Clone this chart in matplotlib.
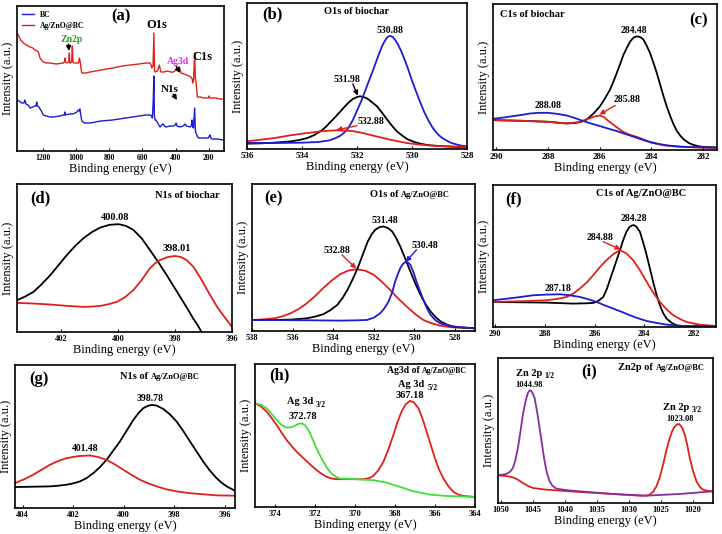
import numpy as np
import matplotlib
matplotlib.use('Agg')
import matplotlib.pyplot as plt

plt.rcParams['font.family'] = 'Liberation Serif'
plt.rcParams['font.weight'] = 'bold'

# ---- data: (binding energy eV, intensity a.u.) ----
# (a) survey spectra
a_ag = np.array([
    [1357, 117], [1349, 116], [1335, 111], [1319, 108], [1300, 106], [1278, 104],
    [1262, 103], [1248, 101], [1236, 100], [1228, 99], [1218, 93], [1205, 90],
    [1198, 89], [1180, 88], [1158, 88], [1120, 87], [1077, 88], [1069, 90],
    [1067, 93], [1064, 89], [1058, 88], [1045, 89], [1041, 98], [1038, 88],
    [1034, 88], [1027, 89], [1023, 105], [1019, 89], [1013, 88], [995, 88],
    [987, 88], [980, 93], [975, 88], [970, 82], [966, 78], [940, 78], [916, 79],
    [850, 81], [780, 83], [720, 85], [675, 86], [620, 87], [580, 88], [554, 88],
    [548, 86], [544, 83], [536, 85], [531, 118], [527, 80], [524, 79], [510, 80],
    [498, 86], [492, 81], [488, 79], [470, 79], [450, 80], [430, 79], [413, 79],
    [397, 81], [385, 80], [377, 84], [371, 80], [367, 78], [350, 77], [333, 76],
    [320, 75], [309, 74], [300, 72], [297, 68], [292, 70], [285, 98], [281, 72],
    [278, 71], [273, 62], [269, 54], [250, 54], [230, 53], [212, 53], [203, 53],
    [198, 55], [193, 53], [186, 53], [160, 53], [130, 52], [108, 52]])
a_bc = np.array([
    [1357, 51], [1345, 50], [1329, 48], [1315, 48], [1309, 51], [1303, 47],
    [1290, 46], [1278, 43], [1262, 44], [1250, 45], [1242, 45], [1238, 49],
    [1234, 45], [1225, 44], [1210, 40], [1198, 36], [1180, 35], [1160, 34],
    [1138, 34], [1100, 35], [1077, 36], [1071, 36], [1069, 39], [1066, 36],
    [1040, 37], [1020, 37], [1007, 38], [995, 39], [987, 41], [982, 40],
    [978, 42], [972, 36], [966, 30], [950, 28], [916, 28], [850, 30], [780, 31],
    [700, 33], [620, 35], [580, 36], [554, 36], [545, 35], [540, 33], [535, 50],
    [531, 75], [528, 35], [524, 31], [518, 31], [505, 27], [494, 24], [484, 26],
    [476, 27], [468, 25], [458, 24], [435, 25], [413, 25], [402, 26], [397, 28],
    [392, 25], [373, 24], [355, 25], [343, 27], [335, 25], [313, 24], [305, 25],
    [301, 31], [297, 24], [292, 23], [285, 43], [281, 22], [279, 19], [270, 15],
    [263, 13], [240, 13], [220, 13], [203, 13], [196, 15], [192, 16], [188, 13],
    [180, 12], [150, 12], [112, 11]])

# (b) O1s of biochar
b_531 = np.array([
    [536.0, 16], [535.5, 17], [535.0, 19], [534.4, 23], [534.1, 27], [533.8, 33],
    [533.55, 42], [533.3, 55], [533.15, 65], [533.0, 78], [532.8, 95], [532.6, 113],
    [532.45, 127], [532.3, 140], [532.15, 150], [532.0, 156], [531.9, 158], [531.8, 157],
    [531.7, 154], [531.6, 150], [531.45, 140], [531.27, 128], [531.1, 110], [530.9, 88],
    [530.75, 72], [530.55, 53], [530.35, 40], [530.18, 30], [529.95, 22], [529.7, 16],
    [529.45, 12], [529.2, 10], [528.6, 7], [528.0, 5]])
b_530 = np.array([
    [536.0, 18], [535.0, 18], [534.0, 19], [533.4, 21], [533.0, 26], [532.8, 32],
    [532.6, 40], [532.45, 50], [532.3, 65], [532.15, 87], [532.0, 115], [531.85, 143],
    [531.7, 175], [531.55, 208], [531.4, 240], [531.3, 263], [531.2, 285], [531.1, 306],
    [531.0, 323], [530.92, 333], [530.85, 338], [530.78, 339], [530.7, 336], [530.6, 326],
    [530.5, 312], [530.4, 295], [530.3, 275], [530.15, 242], [530.0, 205], [529.85, 172],
    [529.7, 140], [529.55, 110], [529.4, 85], [529.25, 64], [529.1, 48], [528.95, 36],
    [528.8, 28], [528.6, 19], [528.4, 14], [528.2, 10], [528.0, 8]])
b_532 = np.array([
    [536.0, 23], [535.5, 28], [535.0, 33], [534.5, 40], [534.0, 46], [533.6, 50],
    [533.3, 53], [533.0, 55], [532.75, 56], [532.4, 55], [532.1, 53], [531.8, 48],
    [531.4, 40], [531.1, 34], [530.8, 28], [530.5, 23], [530.2, 18], [529.8, 14],
    [529.45, 11], [529.0, 9], [528.7, 8], [528.0, 6]])

# (c) C1s of biochar
c_284 = np.array([
    [290.13, 90], [289.0, 88], [288.0, 85], [287.3, 80], [287.0, 81], [286.76, 84],
    [286.55, 90], [286.38, 100], [286.2, 113], [285.99, 132], [285.8, 155], [285.6, 182],
    [285.47, 206], [285.34, 232], [285.2, 261], [285.08, 287], [284.95, 308], [284.82, 327],
    [284.7, 338], [284.6, 342], [284.5, 342], [284.4, 339], [284.3, 332], [284.18, 314],
    [284.05, 292], [283.92, 263], [283.79, 232], [283.66, 197], [283.53, 162], [283.4, 130],
    [283.27, 102], [283.14, 77], [283.01, 57], [282.88, 43], [282.75, 32], [282.55, 21],
    [282.36, 15], [282.15, 11], [281.97, 9], [281.46, 8]])
c_285 = np.array([
    [290.13, 90], [289.0, 88], [288.0, 85], [287.3, 80], [286.8, 84], [286.4, 95],
    [286.2, 101], [286.0, 104], [285.85, 100], [285.7, 90], [285.4, 72], [285.1, 55],
    [284.8, 45], [284.5, 38], [284.0, 22], [283.5, 14], [283.0, 10], [282.0, 7],
    [281.46, 6]])
c_288 = np.array([
    [290.13, 94], [289.7, 98], [289.35, 102], [289.0, 106], [288.7, 110], [288.35, 112],
    [288.0, 112], [287.65, 109], [287.28, 104], [286.95, 96], [286.63, 87], [286.3, 79],
    [285.99, 72], [285.65, 64], [285.34, 57], [285.0, 48], [284.69, 40], [284.35, 31],
    [284.05, 24], [283.7, 18], [283.4, 14], [283.0, 11], [282.62, 9], [282.0, 8],
    [281.46, 7]])

# (d) N1s of biochar
d_400 = np.array([
    [403.54, 95], [403.25, 106], [402.96, 120], [402.67, 143], [402.37, 170],
    [402.08, 200], [401.79, 230], [401.5, 257], [401.21, 280], [400.92, 298],
    [400.62, 312], [400.3, 320], [399.98, 322], [399.72, 317], [399.46, 305],
    [399.17, 280], [398.88, 245], [398.58, 208], [398.29, 170], [398.0, 130],
    [397.71, 90], [397.53, 65], [397.36, 40], [397.2, 20], [397.07, 0], [396.8, -35]])
d_398 = np.array([
    [403.54, 87], [402.95, 85], [402.37, 82], [401.79, 78], [401.21, 75], [400.9, 76],
    [400.62, 78], [400.33, 83], [400.04, 90], [399.75, 104], [399.46, 125], [399.17, 155],
    [398.88, 190], [398.7, 205], [398.52, 215], [398.25, 224], [398.0, 227], [397.8, 224],
    [397.59, 215], [397.36, 195], [397.13, 165], [396.9, 130], [396.66, 95], [396.5, 72],
    [396.31, 50], [396.15, 32], [396.0, 15]])

# (e) O1s of Ag/ZnO@BC
e_531 = np.array([
    [538.0, 33], [537.0, 33], [536.1, 34], [535.7, 36], [535.3, 38], [534.9, 43],
    [534.5, 50], [534.15, 62], [533.8, 78], [533.55, 98], [533.3, 123], [533.05, 154],
    [532.8, 188], [532.55, 228], [532.3, 268], [532.1, 290], [531.93, 303], [531.72, 311],
    [531.52, 313], [531.3, 308], [531.1, 298], [530.9, 278], [530.7, 253], [530.45, 216],
    [530.2, 178], [529.95, 141], [529.7, 108], [529.45, 80], [529.2, 58], [528.95, 41],
    [528.7, 28], [528.4, 19], [528.1, 13], [527.5, 10], [527.02, 8]])
e_532 = np.array([
    [538.0, 33], [537.4, 35], [536.9, 38], [536.5, 44], [536.1, 53], [535.7, 66],
    [535.3, 83], [534.9, 104], [534.5, 128], [534.1, 150], [533.66, 170], [533.25, 181],
    [532.84, 185], [532.4, 180], [532.0, 168], [531.6, 147], [531.2, 123], [530.8, 97],
    [530.38, 73], [529.95, 50], [529.56, 33], [529.15, 23], [528.74, 16], [528.3, 12],
    [527.9, 10], [527.02, 8]])
e_530 = np.array([
    [538.0, 33], [535.0, 32], [533.7, 31], [532.8, 32], [532.34, 33], [532.0, 40],
    [531.69, 53], [531.48, 68], [531.28, 88], [531.1, 115], [530.95, 148], [530.82, 170],
    [530.7, 188], [530.58, 200], [530.46, 206], [530.33, 205], [530.2, 198], [530.05, 176],
    [529.9, 148], [529.73, 120], [529.56, 93], [529.4, 70], [529.23, 50], [529.0, 34],
    [528.74, 23], [528.3, 16], [527.9, 12], [527.02, 8]])

# (f) C1s of Ag/ZnO@BC
f_284 = np.array([
    [290.07, 75], [287.93, 73], [286.86, 70], [286.3, 71], [286.05, 72], [285.85, 78],
    [285.65, 90], [285.5, 115], [285.32, 155], [285.15, 192], [284.98, 230], [284.85, 260],
    [284.72, 285], [284.6, 299], [284.5, 304], [284.42, 305], [284.32, 300], [284.18, 285],
    [284.05, 253], [283.91, 215], [283.78, 175], [283.65, 135], [283.52, 98], [283.38, 65],
    [283.25, 42], [283.11, 25], [282.9, 12], [282.71, 5], [282.31, 2], [281.13, 2]])
f_285 = np.array([
    [290.07, 75], [289.0, 77], [287.93, 80], [287.5, 84], [287.12, 90], [286.85, 100],
    [286.59, 115], [286.3, 134], [286.05, 155], [285.8, 178], [285.52, 200], [285.25, 218],
    [284.98, 230], [284.72, 220], [284.45, 200], [284.18, 170], [283.91, 135], [283.65, 103],
    [283.38, 75], [283.1, 52], [282.84, 35], [282.55, 23], [282.31, 15], [281.78, 7],
    [281.13, 3]])
f_287 = np.array([
    [290.07, 80], [289.6, 84], [289.26, 87], [288.85, 91], [288.46, 95], [287.9, 97],
    [287.39, 98], [287.0, 95], [286.59, 90], [286.25, 83], [285.92, 75], [285.6, 65],
    [285.25, 55], [284.9, 45], [284.58, 35], [284.25, 26], [283.91, 18], [283.5, 12],
    [283.11, 7], [282.7, 4], [282.31, 3], [281.13, 2]])

# (g) N1s of Ag/ZnO@BC
g_398 = np.array([
    [404.3, 63], [403.6, 64], [402.92, 65], [402.6, 67], [402.26, 70], [402.0, 74],
    [401.73, 80], [401.47, 90], [401.2, 105], [400.94, 123], [400.68, 145], [400.42, 172],
    [400.15, 200], [399.88, 233], [399.62, 265], [399.42, 285], [399.23, 300], [399.05, 307],
    [398.9, 310], [398.7, 308], [398.44, 298], [398.18, 282], [397.91, 260], [397.65, 232],
    [397.38, 200], [397.12, 170], [396.86, 140], [396.6, 113], [396.33, 90], [396.13, 76],
    [395.93, 65], [395.6, 52]])
g_401 = np.array([
    [404.3, 75], [403.95, 86], [403.58, 100], [403.25, 115], [402.92, 130], [402.6, 141],
    [402.26, 150], [401.8, 156], [401.34, 158], [401.0, 153], [400.68, 145], [400.35, 131],
    [400.02, 115], [399.7, 100], [399.36, 85], [399.03, 74], [398.7, 65], [398.3, 56],
    [397.91, 50], [397.45, 45], [396.99, 42], [396.33, 38], [395.6, 37]])

# (h) Ag3d of Ag/ZnO@BC
h_367 = np.array([
    [375.0, 310], [374.7, 300], [374.42, 285], [374.17, 266], [373.92, 245], [373.67, 222],
    [373.42, 200], [373.17, 182], [372.92, 165], [372.67, 151], [372.42, 137], [372.17, 123],
    [371.92, 110], [371.67, 99], [371.42, 90], [371.17, 85], [370.92, 83], [370.25, 83],
    [369.58, 83], [369.3, 86], [369.08, 93], [368.83, 110], [368.58, 135], [368.33, 172],
    [368.08, 215], [367.88, 253], [367.67, 285], [367.46, 307], [367.25, 317], [367.05, 312],
    [366.83, 295], [366.62, 263], [366.42, 225], [366.2, 183], [366.0, 145], [365.8, 112],
    [365.58, 85], [365.33, 62], [365.08, 45], [364.83, 37], [364.58, 33], [364.0, 30]])
h_372 = np.array([
    [375.0, 310], [374.7, 305], [374.42, 295], [374.17, 278], [373.92, 260], [373.67, 245],
    [373.42, 237], [373.2, 238], [373.0, 243], [372.83, 248], [372.67, 250], [372.5, 244],
    [372.33, 230], [372.17, 210], [372.0, 185], [371.8, 160], [371.58, 135], [371.38, 115],
    [371.17, 100], [370.95, 90], [370.75, 85], [369.92, 83], [369.08, 80], [368.42, 73],
    [367.75, 60], [367.08, 47], [366.25, 37], [365.42, 33], [364.0, 30]])

# (i) Zn2p of Ag/ZnO@BC
i_1045 = np.array([
    [1050.52, 83], [1049.22, 87], [1048.6, 94], [1048.17, 105], [1047.8, 128],
    [1047.39, 165], [1047.0, 213], [1046.61, 265], [1046.2, 305], [1045.83, 330],
    [1045.55, 338], [1045.31, 337], [1045.05, 328], [1044.78, 315], [1044.4, 275],
    [1044.0, 225], [1043.6, 173], [1043.22, 125], [1042.85, 90], [1042.44, 65],
    [1042.0, 52], [1041.39, 43], [1040.0, 39], [1037.74, 35], [1032.52, 27],
    [1027.31, 22], [1022.2, 27], [1016.88, 35]])
i_1023 = np.array([
    [1050.52, 83], [1049.3, 81], [1048.17, 77], [1047.4, 70], [1046.61, 60],
    [1045.8, 51], [1045.04, 45], [1042.96, 40], [1037.74, 33], [1032.52, 27],
    [1028.35, 22], [1027.3, 22], [1026.79, 25], [1026.25, 34], [1025.74, 50],
    [1025.2, 78], [1024.7, 115], [1024.2, 157], [1023.66, 195], [1023.25, 217],
    [1022.87, 230], [1022.5, 236], [1022.2, 237], [1021.75, 227], [1021.31, 205],
    [1020.9, 172], [1020.53, 135], [1020.0, 95], [1019.48, 65], [1018.95, 48],
    [1018.44, 40], [1017.6, 36], [1016.88, 35]])

BLUE = '#1c1cd0'
RED = '#e0201c'
GREEN = '#3ee03a'
PURPLE = '#86309a'

W, H = 722, 534
fig = plt.figure(figsize=(7.22, 5.34), dpi=100)


def panel(l, t, r, b):
    return fig.add_axes([l / W, 1 - b / H, (r - l) / W, (b - t) / H])


def style(ax, xlim, ylim, ticks, fs=6):
    ax.set_xlim(*xlim)
    ax.set_ylim(*ylim)
    ax.set_xticks(ticks)
    ax.set_yticks([])
    ax.tick_params(axis='x', direction='in', length=2, labelsize=fs, pad=2)
    for s in ax.spines.values():
        s.set_linewidth(1.2)
    ax.set_xlabel('Binding energy (eV)', fontsize=9, labelpad=1)
    ax.set_ylabel('Intensity (a.u.)', fontsize=9, labelpad=2)


def curve(ax, pts, color, lw=1.3):
    return ax.plot(pts[:, 0], pts[:, 1], color=color, lw=lw, solid_joinstyle='round')[0]


def label(ax, x, y, s, fs=7, color='black'):
    ax.text(x, y, s, fontsize=fs, ha='center', va='center', color=color)


def arrow(ax, start, end, color):
    ax.annotate('', xy=end, xytext=start,
                arrowprops=dict(arrowstyle='-|>', color=color, lw=1,
                                mutation_scale=7, shrinkA=0, shrinkB=0))


def sub_text(ax, x, y, main, sub, fs=7.5):
    t = ax.text(x, y, main, fontsize=fs, ha='left', va='center')
    ax.annotate(sub, xy=(1, 0.15), xycoords=t, xytext=(2, 0),
                textcoords='offset points', fontsize=fs * 0.75, ha='left', va='center')


def title(ax, fx, fy, big, small=None, fs=7.5):
    t = ax.text(fx, fy, big, transform=ax.transAxes, fontsize=fs, ha='left', va='center')
    if small:
        ax.annotate(small, xy=(1, 0), xycoords=t, xytext=(2, 0),
                    textcoords='offset points', fontsize=fs * 0.8, ha='left', va='bottom')


def letter(ax, fx, fy, s):
    ax.text(fx, fy, s, transform=ax.transAxes, fontsize=12, ha='center', va='center')


# (a)
ax = panel(17, 6, 224, 151)
l1 = curve(ax, a_bc, BLUE, 1.0)
l2 = curve(ax, a_ag, RED, 1.0)
style(ax, (1357, 108), (0, 145), [1200, 1000, 800, 600, 400, 200], fs=5.5)
ax.legend([l1, l2], ['BC', 'Ag/ZnO@BC'], loc='upper left', frameon=False, fontsize=5.5,
          handlelength=1.6, borderaxespad=0.2, labelspacing=0.4)
letter(ax, 0.50, 0.93, '(a)')
label(ax, 512, 126, 'O1s', fs=9)
label(ax, 240, 94, 'C1s', fs=9)
label(ax, 1025, 112, 'Zn2p', fs=7, color='#22a022')
label(ax, 385, 90, 'Ag3d', fs=7, color='#e030e0')
label(ax, 434, 62, 'N1s', fs=8)
arrow(ax, (1047, 107), (1043, 100), 'black')
arrow(ax, (397, 85), (373, 78), 'black')
arrow(ax, (415, 57), (392, 51), 'black')

# (b)
ax = panel(247, 3, 467, 149)
curve(ax, b_531, 'black')
curve(ax, b_530, BLUE)
curve(ax, b_532, RED)
style(ax, (536, 528), (0, 438), [536, 534, 532, 530, 528], fs=6.5)
title(ax, 0.35, 0.943, 'O1s of biochar')
letter(ax, 0.114, 0.92, '(b)')
label(ax, 530.79, 355, '530.88')
label(ax, 532.36, 208, '531.98')
arrow(ax, (532.15, 195), (531.97, 160), 'black')
label(ax, 531.5, 83, '532.88')
arrow(ax, (532.0, 70), (532.75, 57), RED)

# (c)
ax = panel(493, 4, 717, 150)
curve(ax, c_284, 'black')
curve(ax, c_285, RED)
curve(ax, c_288, BLUE)
style(ax, (290.13, 281.46), (0, 440), [290, 288, 286, 284, 282], fs=6.5)
title(ax, 0.03, 0.925, 'C1s of biochar')
letter(ax, 0.918, 0.89, '(c)')
label(ax, 284.67, 360, '284.48')
label(ax, 288.0, 134, '288.08')
label(ax, 284.95, 152, '285.88')
arrow(ax, (285.4, 134), (286.01, 107), RED)

# (d)
ax = panel(17, 184, 232, 332)
curve(ax, d_400, 'black')
curve(ax, d_398, RED)
style(ax, (403.54, 396.0), (0, 442), [402, 400, 398, 396])
title(ax, 0.64, 0.92, 'N1s of biochar')
letter(ax, 0.11, 0.90, '(d)')
label(ax, 400.1, 342, '400.08', fs=7.5)
label(ax, 397.94, 250, '398.01', fs=7.5)

# (e)
ax = panel(252, 184, 475, 331)
curve(ax, e_532, RED)
curve(ax, e_531, 'black')
curve(ax, e_530, BLUE)
style(ax, (538, 527.02), (0, 440), [538, 536, 534, 532, 530, 528])
title(ax, 0.527, 0.93, 'O1s of', 'Ag/ZnO@BC')
letter(ax, 0.097, 0.905, '(e)')
label(ax, 531.44, 330, '531.48')
label(ax, 529.48, 255, '530.48')
arrow(ax, (529.9, 243), (530.43, 207), BLUE)
label(ax, 533.82, 240, '532.88')
arrow(ax, (533.57, 228), (532.87, 187), RED)

# (f)
ax = panel(493, 185, 716, 327)
curve(ax, f_284, 'black')
curve(ax, f_285, RED)
curve(ax, f_287, BLUE)
style(ax, (290.07, 281.13), (0, 425), [290, 288, 286, 284, 282])
title(ax, 0.464, 0.94, 'C1s of Ag/ZnO@BC')
letter(ax, 0.09, 0.90, '(f)')
label(ax, 284.42, 325, '284.28')
label(ax, 285.79, 267, '284.88')
arrow(ax, (285.65, 255), (284.95, 232), RED)
label(ax, 287.46, 115, '287.18')

# (g)
ax = panel(15, 365, 235, 508)
curve(ax, g_398, 'black')
curve(ax, g_401, RED)
style(ax, (404.3, 395.6), (0, 430), [404, 402, 400, 398, 396])
title(ax, 0.477, 0.92, 'N1s of', 'Ag/ZnO@BC')
letter(ax, 0.11, 0.90, '(g)')
label(ax, 398.96, 330, '398.78')
label(ax, 401.53, 178, '401.48')

# (h)
ax = panel(255, 364, 475, 507)
curve(ax, h_367, RED)
curve(ax, h_372, GREEN)
style(ax, (375, 364), (0, 427), [374, 372, 370, 368, 366, 364])
title(ax, 0.598, 0.952, 'Ag3d of', 'Ag/ZnO@BC', fs=7)
letter(ax, 0.11, 0.92, '(h)')
sub_text(ax, 373.42, 315, 'Ag 3d', '3/2')
label(ax, 372.58, 270, '372.78', fs=7.5)
sub_text(ax, 367.83, 365, 'Ag 3d', '5/2')
label(ax, 367.25, 333, '367.18', fs=7.5)

# (i)
ax = panel(498, 358, 713, 503)
curve(ax, i_1023, RED)
curve(ax, i_1045, PURPLE)
style(ax, (1050.5, 1016.9), (0, 435), [1050, 1045, 1040, 1035, 1030, 1025, 1020])
title(ax, 0.558, 0.936, 'Zn2p of', 'Ag/ZnO@BC')
letter(ax, 0.426, 0.91, '(i)')
sub_text(ax, 1047.76, 390, 'Zn 2p', '1/2')
label(ax, 1045.67, 355, '1044.98', fs=6)
sub_text(ax, 1024.7, 287, 'Zn 2p', '3/2')
label(ax, 1022.1, 253, '1023.08', fs=6)

fig.savefig('out.png', dpi=100)
